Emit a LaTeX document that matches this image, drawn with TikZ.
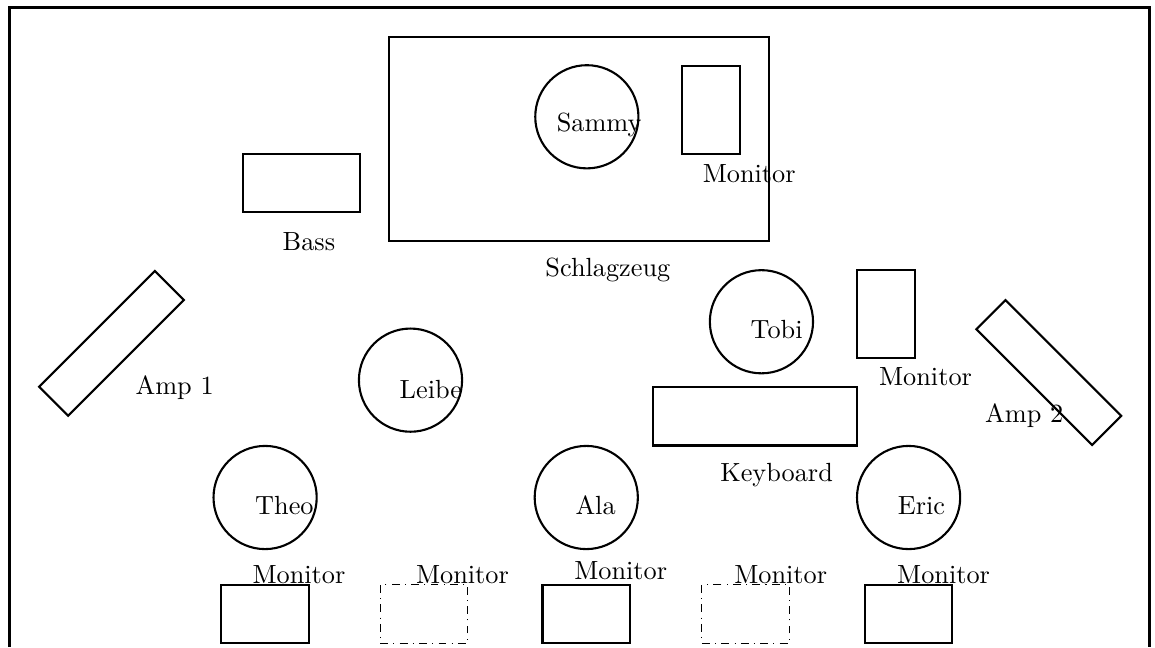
\documentclass[tikz,border=0pt]{standalone}
\usepackage{tikz}

\begin{document}
\begin{tikzpicture}[
        scale=0.781,
        stage/.style={very thick},
        box/.style={rectangle, draw, thick, inner sep=0pt},
        person/.style={circle, draw, thick, minimum size=1.38cm, inner sep=0pt},
        monitor/.style={box, minimum width=0.78cm, minimum height=1.17cm},
        wedge/.style={box, minimum width=1.17cm, minimum height=0.78cm},
        spare/.style={wedge, thin, dash dot},
        amp/.style={box, minimum width=2.19cm, minimum height=0.55cm},
        tag/.style={anchor=base}
    ]
        \useasboundingbox (0,0) rectangle (19.78,11.08);

        % Stage outline
        \draw[stage] (0.16,0) |- (19.69,10.95) -- (19.69,0);

        % Drums
        \node[box, minimum width=5.08cm, minimum height=2.73cm] (drums) at (9.92,8.705) {};
        \node[person] (sammy) at (10.05,9.08) {};
        \node[monitor] (drummon) at (12.175,9.195) {};
        \node[tag] (sammytag) at (10.26,8.82) {Sammy};
        \node[tag] (drummontag) at (12.83,7.95) {Monitor};
        \node[tag] (drumstag) at (10.41,6.34) {Schlagzeug};

        % Bass
        \node[box, minimum width=1.56cm, minimum height=0.78cm] (bass) at (5.165,7.95) {};
        \node[tag] (basstag) at (5.29,6.79) {Bass};

        % Amps
        \node[amp, rotate=45] (amp1) at (1.91,5.20) {};
        \node[tag] (amp1tag) at (2.99,4.33) {Amp 1};
        \node[amp, rotate=-45] (amp2) at (17.96,4.70) {};
        \node[tag] (amp2tag) at (17.54,3.84) {Amp 2};

        % Keys
        \node[person] (tobi) at (13.04,5.57) {};
        \node[tag] (tobitag) at (13.30,5.29) {Tobi};
        \node[monitor] (keymon) at (15.175,5.705) {};
        \node[tag] (keymontag) at (15.85,4.47) {Monitor};
        \node[box, minimum width=2.73cm, minimum height=0.78cm] (keys) at (12.925,3.95) {};
        \node[tag] (keystag) at (13.30,2.83) {Keyboard};

        % Front line
        \node[person] (leibe) at (7.03,4.57) {};
        \node[tag] (leibetag) at (7.38,4.26) {Leibe};
        \node[person] (theo) at (4.54,2.56) {};
        \node[tag] (theotag) at (4.87,2.27) {Theo};
        \node[person] (ala) at (10.04,2.56) {};
        \node[tag] (alatag) at (10.20,2.27) {Ala};
        \node[person] (eric) at (15.56,2.56) {};
        \node[tag] (erictag) at (15.78,2.27) {Eric};

        % Floor monitors
        \node[wedge] (mon1) at (4.54,0.565) {};
        \node[spare] (mon2) at (7.26,0.565) {};
        \node[wedge] (mon3) at (10.04,0.565) {};
        \node[spare] (mon4) at (12.77,0.565) {};
        \node[wedge] (mon5) at (15.555,0.565) {};
        \node[tag] (mon1tag) at (5.12,1.09) {Monitor};
        \node[tag] (mon2tag) at (7.92,1.09) {Monitor};
        \node[tag] (mon3tag) at (10.63,1.15) {Monitor};
        \node[tag] (mon4tag) at (13.37,1.09) {Monitor};
        \node[tag] (mon5tag) at (16.16,1.09) {Monitor};
\end{tikzpicture}
\end{document}
